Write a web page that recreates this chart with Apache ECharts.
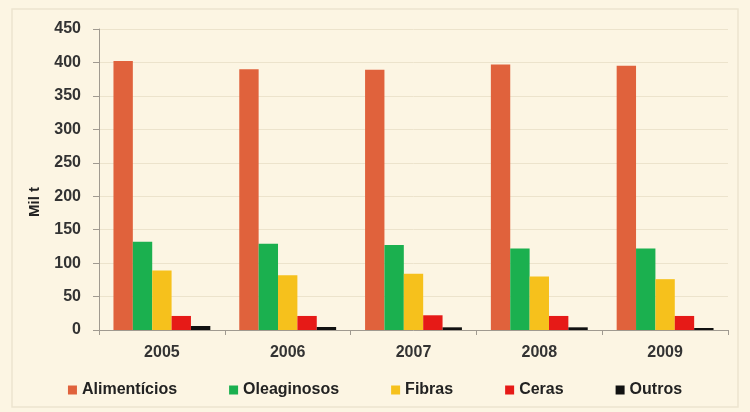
<!DOCTYPE html>
<html><head><meta charset="utf-8">
<script src="https://cdn.jsdelivr.net/npm/echarts@6/dist/echarts.min.js"></script>
<style>html,body{margin:0;padding:0;background:#fcf5e3;}#c{width:750px;height:412px;}</style>
</head><body><div id="c"></div>
<script>
const categories = ['2005','2006','2007','2008','2009'];
const alimenticios = [402, 390, 389, 397, 395];
const oleaginosos = [132, 129, 127, 122, 122];
const fibras = [89, 82, 84, 80, 76];
const ceras = [21, 21, 22, 21, 21];
const outros = [6, 4.5, 4, 4, 3];
const seriesNames = ['Alimentícios','Oleaginosos','Fibras','Ceras','Outros'];
const yAxisName = 'Mil t';
const colors = ['#e0623c','#1bb04f','#f6c11c','#e61a17','#111111'];
const dataSets = [alimenticios, oleaginosos, fibras, ceras, outros];

const chart = echarts.init(document.getElementById('c'));
chart.setOption({
  backgroundColor: '#fcf5e3',
  animation: false,
  graphic: [
    {type:'rect', shape:{x:12,y:9,width:726,height:398}, style:{fill:'none', stroke:'#ece4cf', lineWidth:1.5}, silent:true},
    {type:'text', x:35, y:202, rotation: Math.PI/2, style:{text: yAxisName, fill:'#222', font:'bold 15px "Liberation Sans"', align:'center', verticalAlign:'middle'}, silent:true}
  ],
  grid: {left: 99, right: 22, top: 29, bottom: 82},
  legend: {
    bottom: 9, left: 'center', itemGap: 52, itemWidth: 9, itemHeight: 9, icon: 'rect',
    textStyle: {fontFamily: 'Liberation Sans', fontSize: 16, fontWeight: 'bold', color: '#222'},
    data: seriesNames
  },
  xAxis: {
    type: 'category', data: categories,
    axisLine: {lineStyle: {color: '#a09a90'}},
    axisTick: {show: true, length: 5, lineStyle: {color: '#a09a90'}},
    axisLabel: {fontFamily: 'Liberation Sans', fontSize: 16, fontWeight: 'bold', color: '#333', margin: 15}
  },
  yAxis: {
    type: 'value', min: 0, max: 450, interval: 50,
    axisLine: {show: true, lineStyle: {color: '#a09a90'}},
    axisTick: {show: true, length: 6, lineStyle: {color: '#a09a90'}},
    axisLabel: {fontFamily: 'Liberation Sans', fontSize: 16, fontWeight: 'bold', color: '#333', margin: 18},
    splitLine: {lineStyle: {color: '#ece3cc'}}
  },
  series: dataSets.map((d, i) => ({
    name: seriesNames[i], type: 'bar', data: d,
    itemStyle: {color: colors[i]},
    barGap: '0%', barCategoryGap: '23%'
  }))
});
</script></body></html>
